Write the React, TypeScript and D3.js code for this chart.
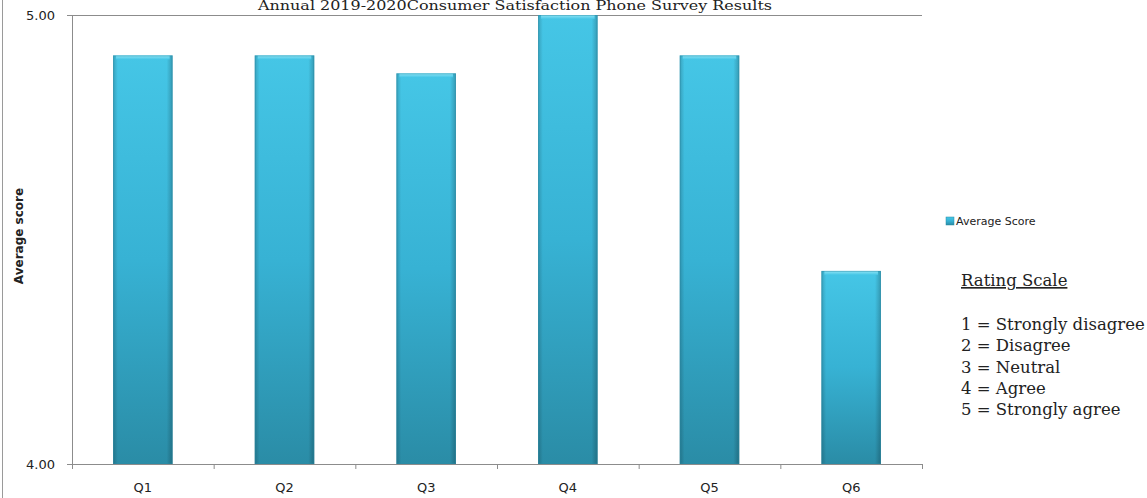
import React from "react";
import * as d3 from "d3";

const categories = ["Q1", "Q2", "Q3", "Q4", "Q5", "Q6"];
const averageScores = [4.91, 4.91, 4.87, 5.0, 4.91, 4.43];
const yTicks = [4, 5];
const scaleLines = [
  "1 = Strongly disagree",
  "2 = Disagree",
  "3 = Neutral",
  "4 = Agree",
  "5 = Strongly agree",
];

const W = 1147;
const H = 498;
const M = { left: 72, right: 225, top: 15, bottom: 34 };

export default function App() {
  const x = d3
    .scaleBand<string>()
    .domain(categories)
    .range([M.left, W - M.right])
    .paddingInner(0.58)
    .paddingOuter(0.29);
  const y = d3.scaleLinear().domain([4, 5]).range([H - M.bottom, M.top]);
  const band = (W - M.left - M.right) / categories.length;
  const sans = "'DejaVu Sans', Verdana, sans-serif";
  const serif = "'DejaVu Serif', Georgia, serif";

  return (
    <svg
      width={W}
      height={H}
      style={{ position: "absolute", left: 0, top: 0, background: "#fff" }}
    >
      <defs>
        <linearGradient id="barV" x1="0" y1="0" x2="0" y2="1">
          <stop offset="0" stopColor="#45c6e6" />
          <stop offset="0.5" stopColor="#37b2d4" />
          <stop offset="1" stopColor="#2a8ca6" />
        </linearGradient>
        <linearGradient id="barH" x1="0" y1="0" x2="1" y2="0">
          <stop offset="0" stopColor="#000" stopOpacity="0.18" />
          <stop offset="0.08" stopColor="#000" stopOpacity="0" />
          <stop offset="0.9" stopColor="#000" stopOpacity="0" />
          <stop offset="1" stopColor="#000" stopOpacity="0.22" />
        </linearGradient>
        <linearGradient id="barTop" x1="0" y1="0" x2="0" y2="1">
          <stop offset="0" stopColor="#8fe4f5" />
          <stop offset="1" stopColor="#45c6e6" />
        </linearGradient>
      </defs>

      {/* chart frame edge */}
      <line x1={2.5} x2={2.5} y1={0} y2={H} stroke="#9a9a9a" strokeWidth={1} />

      {/* title */}
      <text
        x={515}
        y={10}
        textAnchor="middle"
        fontFamily={serif}
        fontSize={12}
        fill="#222"
        textLength={514}
        lengthAdjust="spacingAndGlyphs"
      >
        Annual 2019-2020Consumer Satisfaction Phone Survey Results
      </text>

      {/* gridline at top value */}
      <line
        x1={M.left}
        x2={W - M.right}
        y1={y(5) + 0.5}
        y2={y(5) + 0.5}
        stroke="#8c8c8c"
      />

      {/* bars */}
      {categories.map((c, i) => {
        const bx = x(c)!;
        const bw = x.bandwidth();
        const top = y(averageScores[i]);
        const bh = y(4) - top;
        return (
          <g key={c}>
            <rect x={bx} y={top} width={bw} height={bh} fill="url(#barV)" />
            <rect x={bx} y={top} width={bw} height={bh} fill="url(#barH)" />
            <rect x={bx + 3} y={top} width={bw - 6} height={4} fill="url(#barTop)" />
            <rect
              x={bx + 0.5}
              y={top + 0.5}
              width={bw - 1}
              height={bh - 1}
              fill="none"
              stroke="#2b8aa3"
              strokeOpacity={0.45}
            />
          </g>
        );
      })}

      {/* y axis */}
      <line x1={M.left + 0.5} x2={M.left + 0.5} y1={M.top} y2={H - M.bottom} stroke="#8c8c8c" />
      {yTicks.map((t) => (
        <g key={t}>
          <line
            x1={M.left - 5}
            x2={M.left}
            y1={y(t) + 0.5}
            y2={y(t) + 0.5}
            stroke="#8c8c8c"
          />
          <text
            x={M.left - 17}
            y={y(t) + 5}
            textAnchor="end"
            fontFamily={sans}
            fontSize={13}
            fill="#222"
          >
            {d3.format(".2f")(t)}
          </text>
        </g>
      ))}
      <text
        transform={`translate(23,236) rotate(-90)`}
        textAnchor="middle"
        fontFamily={sans}
        fontSize={12}
        fontWeight="bold"
        fill="#222"
      >
        Average score
      </text>

      {/* x axis */}
      <line
        x1={M.left}
        x2={W - M.right}
        y1={y(4) + 0.5}
        y2={y(4) + 0.5}
        stroke="#8c8c8c"
      />
      {d3.range(categories.length + 1).map((k) => (
        <line
          key={k}
          x1={M.left + k * band + 0.5}
          x2={M.left + k * band + 0.5}
          y1={y(4)}
          y2={y(4) + 5}
          stroke="#8c8c8c"
        />
      ))}
      {categories.map((c) => (
        <text
          key={c}
          x={x(c)! + x.bandwidth() / 2}
          y={H - 6}
          textAnchor="middle"
          fontFamily={sans}
          fontSize={13}
          fill="#222"
        >
          {c}
        </text>
      ))}

      {/* legend */}
      <rect x={946} y={217} width={8} height={8} fill="url(#barV)" stroke="#2b8aa3" strokeWidth={0.5} />
      <text x={956} y={225} fontFamily={sans} fontSize={11} fill="#222">
        Average Score
      </text>

      {/* rating scale note */}
      <text x={961} y={286} fontFamily={serif} fontSize={16.5} fill="#222" textDecoration="underline">
        Rating Scale
      </text>
      {scaleLines.map((s, i) => (
        <text
          key={s}
          x={961}
          y={330 + i * 21.3}
          fontFamily={serif}
          fontSize={16.5}
          fill="#222"
        >
          {s}
        </text>
      ))}
    </svg>
  );
}
